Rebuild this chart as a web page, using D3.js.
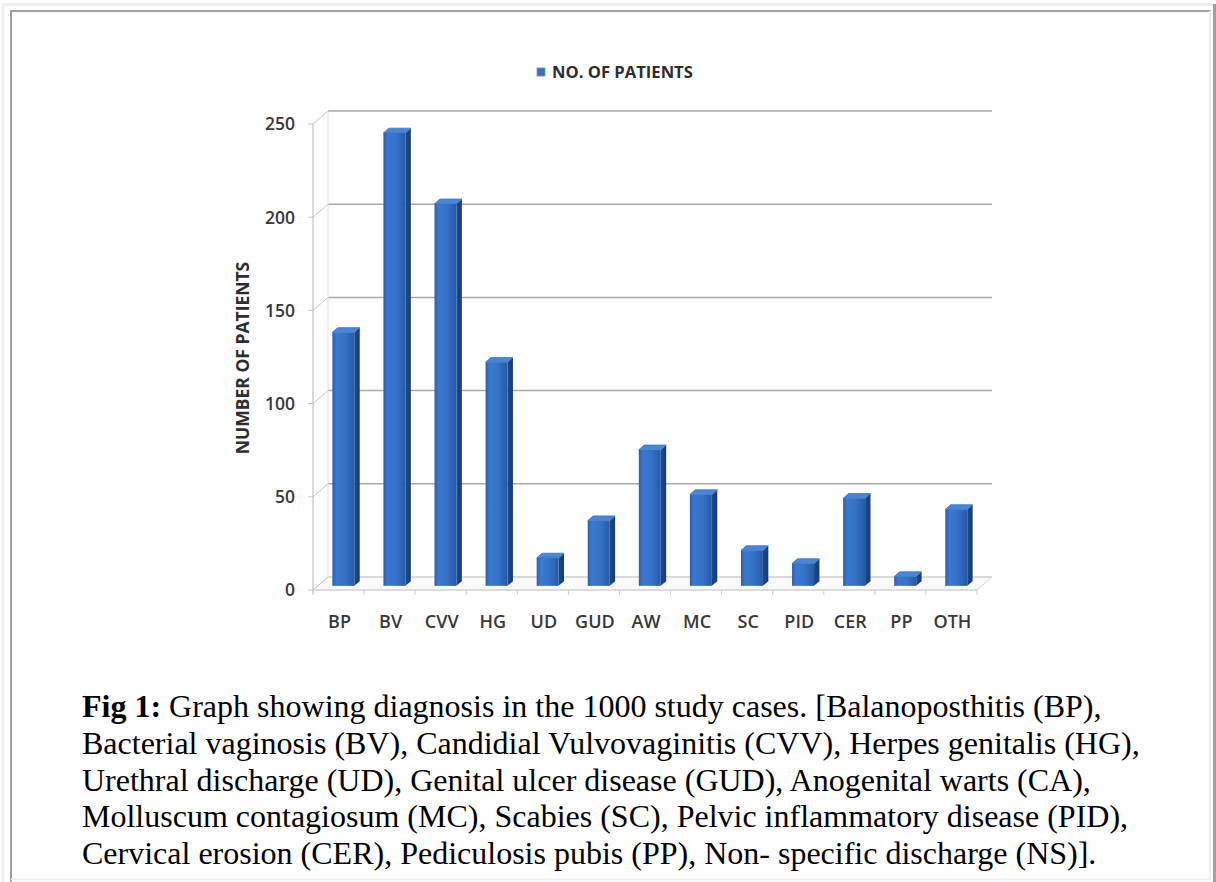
<!DOCTYPE html>
<html>
<head>
<meta charset="utf-8">
<script src="https://cdn.jsdelivr.net/npm/d3@7"></script>
<style>
  body { margin: 0; background: #fff; }
  text { font-family: "Open Sans", sans-serif; }
</style>
</head>
<body>
<svg id="chart" width="1216" height="882"></svg>
<script>
// values
const categories = ['BP', 'BV', 'CVV', 'HG', 'UD', 'GUD', 'AW', 'MC', 'SC', 'PID', 'CER', 'PP', 'OTH'];
const patients = [136, 243, 205, 120, 15, 35, 73, 49, 19, 12, 47, 5, 41];
const yTicks = [0, 50, 100, 150, 200, 250];
const seriesName = 'NO. OF PATIENTS';
const yTitle = 'NUMBER OF PATIENTS';
const captionLines = [
  ['Fig 1:', ' Graph showing diagnosis in the 1000 study cases. [Balanoposthitis (BP),'],
  ['', 'Bacterial vaginosis (BV), Candidial Vulvovaginitis (CVV), Herpes genitalis (HG),'],
  ['', 'Urethral discharge (UD), Genital ulcer disease (GUD), Anogenital warts (CA),'],
  ['', 'Molluscum contagiosum (MC), Scabies (SC), Pelvic inflammatory disease (PID),'],
  ['', 'Cervical erosion (CER), Pediculosis pubis (PP), Non- specific discharge (NS)].']
];

const svg = d3.select('#chart');
svg.append('rect').attr('width', 1216).attr('height', 882).attr('fill', '#fff');

// frame borders (table look)
const frame = svg.append('g');
frame.append('path').attr('d', 'M3,882V4.5H1213').attr('fill', 'none').attr('stroke', '#efefef').attr('stroke-width', 3);
frame.append('path').attr('d', 'M11,882V11H1211').attr('fill', 'none').attr('stroke', '#a0a0a0').attr('stroke-width', 2);
frame.append('path').attr('d', 'M1210,11V879.5H11').attr('fill', 'none').attr('stroke', '#ececec').attr('stroke-width', 2);
frame.append('path').attr('d', 'M1214.5,4V882').attr('fill', 'none').attr('stroke', '#a0a0a0').attr('stroke-width', 3);

// scales
const x = d3.scaleBand().domain(categories).range([313, 977]);
const y = d3.scaleLinear().domain([0, 250]).range([590, 124]);
const DX = 15, DY = -13;          // depth of the 3d box
const front = 0.32, depth = 0.36;  // bar placement inside the depth
const bw = x.bandwidth() * 0.43;

const defs = svg.append('defs');
const g1 = defs.append('linearGradient').attr('id', 'face').attr('x1', 0).attr('x2', 1);
[[0, '#2a5fae'], [0.18, '#3a79d0'], [0.55, '#3573ca'], [1, '#2759a6']].forEach(s =>
  g1.append('stop').attr('offset', s[0]).attr('stop-color', s[1]));
const g2 = defs.append('linearGradient').attr('id', 'side').attr('x1', 0).attr('x2', 1);
[[0, '#1d4a8c'], [1, '#163b72']].forEach(s =>
  g2.append('stop').attr('offset', s[0]).attr('stop-color', s[1]));

// walls and gridlines
const walls = svg.append('g');
walls.append('path')
  .attr('d', `M313,590L977,590L${977 + DX},${590 + DY}L${313 + DX},${590 + DY}Z`)
  .attr('fill', '#fafafa').attr('stroke', '#d8d8d8').attr('stroke-width', 1);
yTicks.forEach(t => {
  walls.append('line')
    .attr('x1', 313 + DX).attr('x2', 977 + DX)
    .attr('y1', y(t) + DY).attr('y2', y(t) + DY)
    .attr('stroke', t === 0 ? '#d4d4d4' : '#aaaaaa').attr('stroke-width', 1.5);
  walls.append('line')
    .attr('x1', 313).attr('x2', 313 + DX)
    .attr('y1', y(t)).attr('y2', y(t) + DY)
    .attr('stroke', '#c9c6cc').attr('stroke-width', 1);
  walls.append('line')
    .attr('x1', 308).attr('x2', 313)
    .attr('y1', y(t)).attr('y2', y(t))
    .attr('stroke', '#c9c6cc').attr('stroke-width', 1);
});
walls.append('line').attr('x1', 313 + DX).attr('x2', 313 + DX)
  .attr('y1', y(250) + DY).attr('y2', y(0) + DY).attr('stroke', '#e2e0e4');
walls.append('line').attr('x1', 313).attr('x2', 313)
  .attr('y1', y(250)).attr('y2', y(0) + 4).attr('stroke', '#c4c0ca').attr('stroke-width', 1.2);
walls.append('line').attr('x1', 313).attr('x2', 977)
  .attr('y1', 590).attr('y2', 590).attr('stroke', '#cfcfcf').attr('stroke-width', 1.2);
categories.concat(['end']).forEach((c, i) => {
  const xx = i < categories.length ? x(c) : 977;
  walls.append('line').attr('x1', xx).attr('x2', xx)
    .attr('y1', 590).attr('y2', 595).attr('stroke', '#cfcfcf');
});

// bars
const bars = svg.append('g').selectAll('g').data(patients).enter().append('g');
const fx = (d, i) => x(categories[i]) + (x.bandwidth() - bw) / 2 + DX * front;
const fy0 = y(0) + DY * front;
const bdx = DX * depth, bdy = DY * depth;
bars.append('path') // side
  .attr('d', (d, i) => {
    const l = fx(d, i) + bw, t = y(d) + DY * front;
    return `M${l},${t}L${l + bdx},${t + bdy}L${l + bdx},${fy0 + bdy}L${l},${fy0}Z`;
  })
  .attr('fill', 'url(#side)');
bars.append('rect') // front
  .attr('x', fx)
  .attr('y', d => y(d) + DY * front)
  .attr('width', bw)
  .attr('height', d => fy0 - (y(d) + DY * front))
  .attr('fill', 'url(#face)');
bars.append('path') // top
  .attr('d', (d, i) => {
    const l = fx(d, i), t = y(d) + DY * front;
    return `M${l},${t}L${l + bdx},${t + bdy}L${l + bw + bdx},${t + bdy}L${l + bw},${t}Z`;
  })
  .attr('fill', '#4a86d4').attr('stroke', '#3c76c4').attr('stroke-width', 0.8)
  .attr('stroke-linejoin', 'round');

// y tick labels
svg.append('g').selectAll('text').data(yTicks).enter().append('text')
  .attr('x', 295).attr('y', d => y(d)).attr('dy', '0.36em')
  .attr('text-anchor', 'end')
  .attr('font-size', 17.5).attr('font-weight', 600).attr('fill', '#383838')
  .text(d => d);

// x labels
svg.append('g').selectAll('text').data(categories).enter().append('text')
  .attr('x', d => x(d) + x.bandwidth() / 2 + 1).attr('y', 622).attr('dy', '0.36em')
  .attr('text-anchor', 'middle')
  .attr('font-size', 18).attr('font-weight', 600).attr('fill', '#383838')
  .text(d => d);

// y title
svg.append('text')
  .attr('transform', 'translate(243,358) rotate(-90)')
  .attr('text-anchor', 'middle').attr('dy', '0.36em')
  .attr('font-size', 17.5).attr('font-weight', 700).attr('fill', '#2e2e2e')
  .text(yTitle);

// legend
svg.append('rect').attr('x', 537).attr('y', 68).attr('width', 8).attr('height', 8)
  .attr('fill', '#3c70ba').attr('stroke', '#6f95cc').attr('stroke-width', 0.8);
svg.append('text').attr('x', 552).attr('y', 72).attr('dy', '0.36em')
  .attr('font-size', 16.6).attr('font-weight', 700).attr('fill', '#2e2e2e')
  .text(seriesName);

// caption
const cap = svg.append('g');
captionLines.forEach((ln, i) => {
  const t = cap.append('text').attr('x', 82).attr('y', 717 + i * 36.8)
    .style('font-family', '"Liberation Serif", "Times New Roman", serif')
    .attr('font-size', 32).attr('fill', '#000');
  if (ln[0]) t.append('tspan').attr('font-weight', 700).text(ln[0]);
  t.append('tspan').text(ln[1]);
});
</script>
</body>
</html>
